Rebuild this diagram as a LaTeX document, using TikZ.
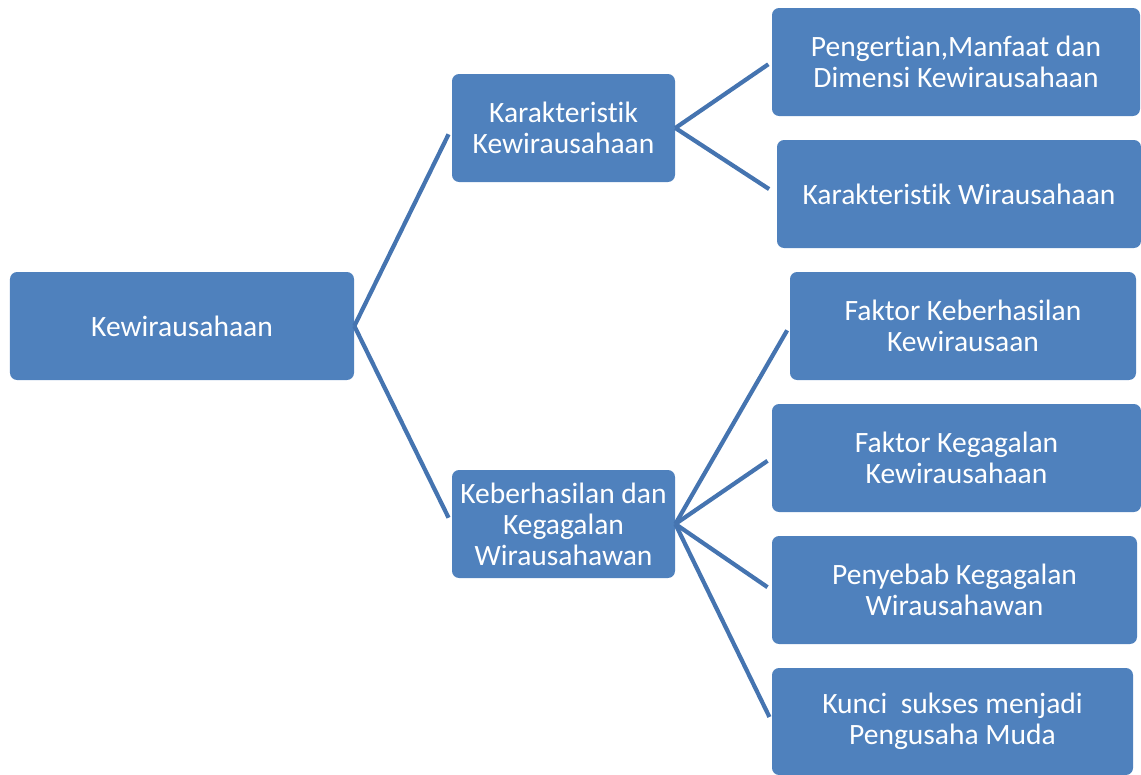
\documentclass[tikz,border=0pt]{standalone}
\usepackage{fontspec}
\setmainfont{Carlito}[Ligatures={NoCommon}]
\usetikzlibrary{calc, positioning}
\definecolor{boxblue}{HTML}{4F81BD}
\definecolor{lineblue}{HTML}{4574B0}
\tikzset{
  topic/.style={rectangle, rounded corners=4pt, fill=boxblue, text=white, align=center,
    minimum height=2.16cm, inner sep=0pt, font=\fontsize{16.8}{17.6}\selectfont},
  link/.style={draw=lineblue, line width=2.4pt}
}
\begin{document}
\begin{tikzpicture}
\useasboundingbox (0,0) rectangle (22.82,-15.5);
\node[topic, minimum width=6.88cm] (root) at (3.64,-6.52) {Kewirausahaan};
\node[topic, minimum width=4.46cm] (karak) at (11.27,-2.56) {Karakteristik\\Kewirausahaan};
\node[topic, minimum width=4.46cm] (hasil) at (11.27,-10.48) {Keberhasilan dan\\Kegagalan\\Wirausahawan};
\node[topic, minimum width=7.36cm] (dimensi) at (19.12,-1.24) {Pengertian,Manfaat dan\\Dimensi Kewirausahaan};
\node[topic, minimum width=7.28cm] (sifat) at (19.18,-3.88) {Karakteristik Wirausahaan};
\node[topic, minimum width=6.92cm] (faktorh) at (19.26,-6.52) {Faktor Keberhasilan\\Kewirausaan};
\node[topic, minimum width=7.38cm] (faktorg) at (19.13,-9.16) {Faktor Kegagalan\\Kewirausahaan};
\node[topic, minimum width=7.30cm] (sebab) at (19.09,-11.80) {Penyebab Kegagalan\\Wirausahawan};
\node[topic, minimum width=7.22cm, minimum height=2.14cm] (kunci) at (19.05,-14.43) {Kunci\ \ sukses menjadi\\Pengusaha Muda};
% connectors
\draw[link, shorten >=0.14cm] (root.east) -- (karak.west);
\draw[link, shorten >=0.14cm] (root.east) -- (hasil.west);
\draw[link, shorten >=0.08cm] (karak.east) -- (dimensi.west);
\draw[link, shorten >=0.18cm] (karak.east) -- (sifat.west);
\foreach \c in {faktorh, faktorg, sebab, kunci} {
  \draw[link, shorten >=0.10cm] (hasil.east) -- (\c.west);
}
\end{tikzpicture}
\end{document}
